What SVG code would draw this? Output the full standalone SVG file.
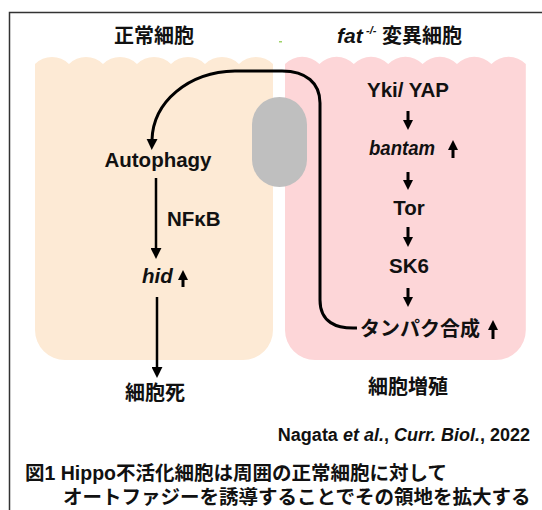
<svg xmlns="http://www.w3.org/2000/svg" width="542" height="510" viewBox="0 0 542 510">
<defs>
<style>
.en{font-family:"Liberation Sans","Noto Sans CJK JP",sans-serif;font-weight:bold;font-size:20.5px;fill:#111}
.it{font-style:italic}
.jp{font-family:"Noto Sans CJK JP","Liberation Sans",sans-serif;font-size:20px;fill:#111;font-weight:bold}
.cap{font-family:"Liberation Sans","Noto Sans CJK JP",sans-serif;font-size:19.5px;font-weight:bold;fill:#111}
.ln{stroke:#000;fill:none;stroke-linecap:butt}
</style>
<marker id="ah" viewBox="0 0 10 10" refX="1" refY="5" markerWidth="11" markerHeight="11" markerUnits="userSpaceOnUse" orient="auto"><path d="M0,0 L10,5 L0,10 z" fill="#000"/></marker>
<marker id="as" viewBox="0 0 10 10" refX="1" refY="5" markerWidth="10" markerHeight="10" markerUnits="userSpaceOnUse" orient="auto"><path d="M0,0 L10,5 L0,10 z" fill="#000"/></marker>
</defs>
<rect width="542" height="510" fill="#fff"/>
<path d="M9.5,510 L9.5,12.5 L542,12.5" fill="none" stroke="#333" stroke-width="1.5"/>
<rect x="279" y="41" width="3" height="1.5" fill="#9fd36a"/>

<g id="normal-cell">
<path d="M35,64 A24,24 0 0 1 69,64 A24,24 0 0 1 103,64 A24,24 0 0 1 137,64 A24,24 0 0 1 171,64 A24,24 0 0 1 205,64 A24,24 0 0 1 239,64 A24,24 0 0 1 273,64 L273,330 A30,30 0 0 1 243,360 L65,360 A30,30 0 0 1 35,330 Z" fill="#fdead5"/>
<text class="jp" x="154" y="43" text-anchor="middle">正常細胞</text>
</g>
<g id="mutant-cell">
<path d="M285,64 A24,24 0 0 1 319.4,64 A24,24 0 0 1 353.8,64 A24,24 0 0 1 388.2,64 A24,24 0 0 1 422.6,64 A24,24 0 0 1 457,64 A24,24 0 0 1 491.4,64 A24,24 0 0 1 525.8,64 L525.8,330 A30,30 0 0 1 495.8,360 L315,360 A30,30 0 0 1 285,330 Z" fill="#fdd6d8"/>
<text class="jp" y="43"><tspan x="337" font-family="Liberation Sans" font-style="italic" font-size="21px">fat</tspan><tspan x="366" y="34" font-family="Liberation Sans" font-style="italic" font-size="11px">-/-</tspan><tspan x="382" y="43">変異細胞</tspan></text>
</g>
<g id="pill">
<rect x="252" y="97" width="55" height="90" rx="27.5" fill="#bfbfbf"/>
</g>

<g id="autophagy"><text class="en" x="158" y="167" text-anchor="middle">Autophagy</text></g>
<g id="nfkb"><text class="en" x="167" y="226">NFκB</text></g>
<g id="hid"><text class="en it" x="142" y="283">hid</text></g>
<g id="death"><text class="jp" x="155" y="400" text-anchor="middle">細胞死</text></g>

<g id="yki"><text class="en" x="408" y="97" text-anchor="middle">Yki/ YAP</text></g>
<g id="bantam"><text class="en it" x="402" y="155" text-anchor="middle" textLength="66" lengthAdjust="spacingAndGlyphs">bantam</text></g>
<g id="tor"><text class="en" x="409" y="215" text-anchor="middle">Tor</text></g>
<g id="sk6"><text class="en" x="409" y="273" text-anchor="middle">SK6</text></g>
<g id="protein"><text class="jp" x="360" y="336">タンパク合成</text></g>
<g id="prolif"><text class="jp" x="408" y="394" text-anchor="middle">細胞増殖</text></g>

<g id="connectors">
<path class="ln" stroke-width="3" d="M357,328 C336,329 320,322 320,300 L320,103 C320,83 306,71 282,71 L235,71 C188,72 153,102 152,140" marker-end="url(#ah)"/>
<path class="ln" stroke-width="2.5" d="M156,178 L156,249" marker-end="url(#ah)"/>
<path class="ln" stroke-width="2.5" d="M157,297 L157,368" marker-end="url(#ah)"/>
<path class="ln" stroke-width="3" d="M408,111 L408,121" marker-end="url(#as)"/>
<path class="ln" stroke-width="3" d="M408,172 L408,181" marker-end="url(#as)"/>
<path class="ln" stroke-width="3" d="M408,227 L408,238" marker-end="url(#as)"/>
<path class="ln" stroke-width="3" d="M408,288 L408,298" marker-end="url(#as)"/>
<path class="ln" stroke-width="3" d="M453,158 L453,149" marker-end="url(#as)"/>
<path class="ln" stroke-width="3" d="M183,287 L183,279" marker-end="url(#as)"/>
<path class="ln" stroke-width="3" d="M493,339 L493,329" marker-end="url(#as)"/>
</g>

<g id="citation"><text class="en" x="530" y="441" text-anchor="end" style="font-size:18px">Nagata <tspan font-style="italic">et al.</tspan>, <tspan font-style="italic">Curr. Biol.</tspan>, 2022</text></g>
<g id="caption">
<text class="cap" x="25" y="480">図1 Hippo不活化細胞は周囲の正常細胞に対して</text>
<text class="cap" x="63" y="504">オートファジーを誘導することでその領地を拡大する</text>
</g>
</svg>
